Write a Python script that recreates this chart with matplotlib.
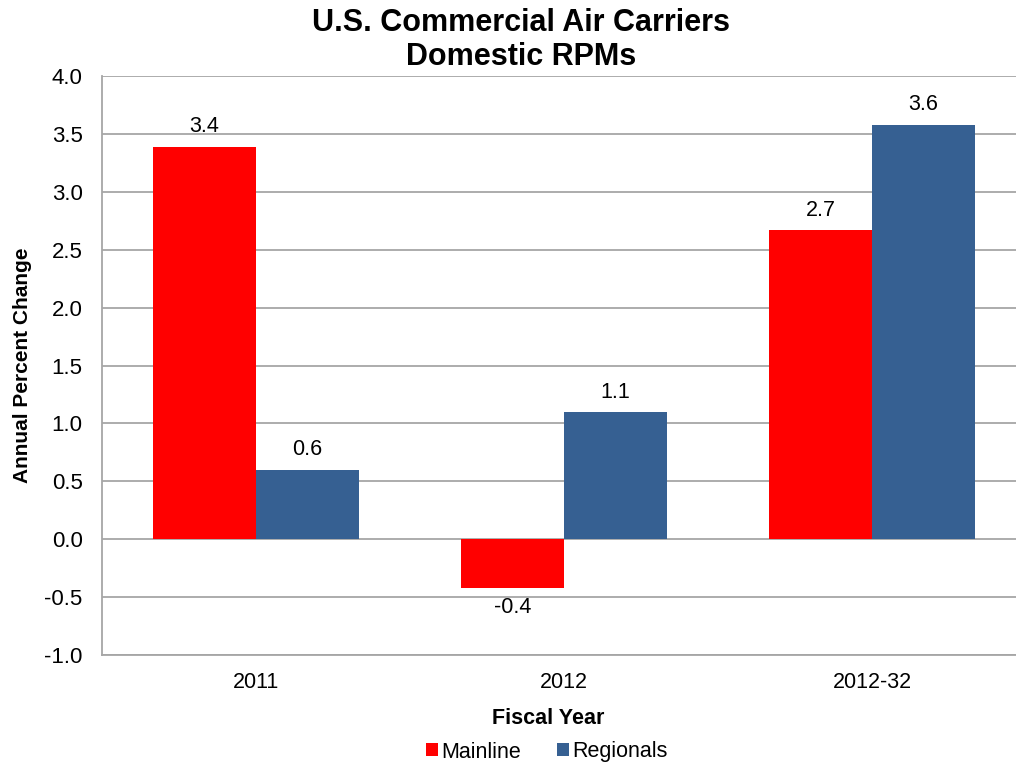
import numpy as np
import matplotlib.pyplot as plt

plt.rcParams['font.family'] = ['Liberation Sans', 'DejaVu Sans']

years = ['2011', '2012', '2012-32']
mainline = [3.39, -0.42, 2.67]
regionals = [0.60, 1.10, 3.58]
mainline_labels = ['3.4', '-0.4', '2.7']
regionals_labels = ['0.6', '1.1', '3.6']

red = '#FF0000'
blue = '#366092'

fig = plt.figure(figsize=(10.16, 7.66), dpi=100)
ax = fig.add_axes([102 / 1016, 1 - 655 / 766, 924 / 1016, (655 - 76) / 766])

x = np.arange(len(years))
w = 1 / 3
b1 = ax.bar(x - w / 2, mainline, w, color=red, label='Mainline', zorder=3)
b2 = ax.bar(x + w / 2, regionals, w, color=blue, label='Regionals', zorder=3)

for bar, lab, v in zip(b1, mainline_labels, mainline):
    off = 0.08 if v >= 0 else -0.08
    ax.text(bar.get_x() + bar.get_width() / 2, v + off, lab,
            ha='center', va='bottom' if v >= 0 else 'top', fontsize=15.5)
for bar, lab, v in zip(b2, regionals_labels, regionals):
    ax.text(bar.get_x() + bar.get_width() / 2, v + 0.08, lab,
            ha='center', va='bottom', fontsize=15.5)

ax.set_xlim(-0.5, 2.5)
ax.set_ylim(-1.0, 4.0)
ax.set_yticks(np.arange(-1.0, 4.01, 0.5))
ax.set_yticklabels([f'{v:.1f}' for v in np.arange(-1.0, 4.01, 0.5)], fontsize=16)
ax.set_xticks(x)
ax.set_xticklabels(years, fontsize=15.5)
ax.tick_params(axis='y', length=0, pad=14)
ax.tick_params(axis='x', length=0, pad=12)
ax.grid(axis='y', color='#A6A6A6', linewidth=1.3, zorder=0)
for s in ['top', 'right']:
    ax.spines[s].set_visible(False)
for s in ['left', 'bottom']:
    ax.spines[s].set_color('#A6A6A6')
    ax.spines[s].set_linewidth(1.3)

ax.set_ylabel('Annual Percent Change', fontsize=15, fontweight='bold', labelpad=9)
fig.text(548 / 1016, 1 - 718 / 766, 'Fiscal Year', ha='center', va='center',
         fontsize=15.5, fontweight='bold')
fig.text(521 / 1016, 1 - 40 / 766, 'U.S. Commercial Air Carriers\nDomestic RPMs',
         ha='center', va='center', fontsize=22, fontweight='bold', linespacing=1.15)

fig.legend(handles=[b1, b2], loc='center', bbox_to_anchor=(547 / 1016, 1 - 752 / 766),
           ncol=2, frameon=False, fontsize=15.5, handlelength=0.55, handleheight=0.55,
           handletextpad=0.15, columnspacing=1.7)

fig.savefig('out.png', dpi=100)
